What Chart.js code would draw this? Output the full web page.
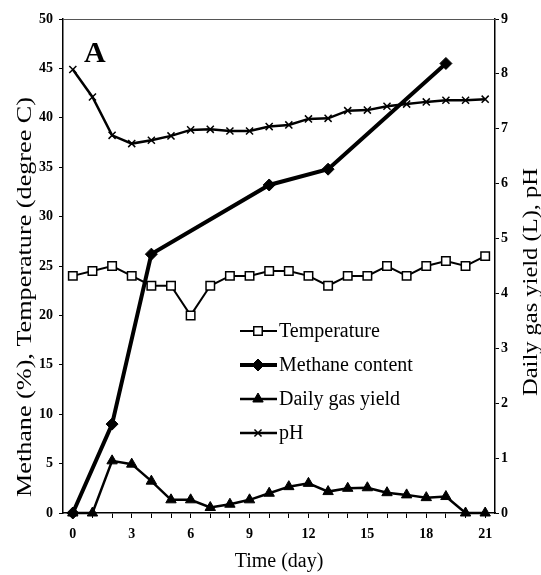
<!DOCTYPE html>
<html>
<head>
<meta charset="utf-8">
<script src="https://cdn.jsdelivr.net/npm/chart.js@4.4.1/dist/chart.umd.min.js"></script>
<style>
html,body{margin:0;padding:0;background:#fff;}
canvas{display:block;}
</style>
</head>
<body>
<canvas id="c" width="541" height="575"></canvas>
<script>
// ---- data ----
const days = [0,1,2,3,4,5,6,7,8,9,10,11,12,13,14,15,16,17,18,19,20,21];
const temperature = [24,24.5,25,24,23,23,20,23,24,24,24.5,24.5,24,23,24,24,25,24,25,25.5,25,26];
const methaneDays = [0,2,4,10,13,19];
const methane = [0,9,26.2,33.2,34.8,45.5];
const gasYield = [0,0,0.95,0.89,0.58,0.24,0.24,0.1,0.16,0.24,0.36,0.48,0.54,0.39,0.45,0.46,0.37,0.33,0.28,0.3,0,0];
const pH = [8.08,7.58,6.88,6.73,6.79,6.87,6.98,6.99,6.96,6.96,7.04,7.07,7.18,7.19,7.33,7.34,7.41,7.45,7.49,7.52,7.52,7.54];
const xTicks = [0,1,2,3,4,5,6,7,8,9,10,11,12,13,14,15,16,17,18,19,20,21];
const xTitle = 'Time (day)';
const yLeftTitle = 'Methane (%), Temperature (degree C)';
const yRightTitle = 'Daily gas yield (L), pH';
const panelLabel = 'A';

const SERIF = '"Liberation Serif","Times New Roman",serif';
const pts = (xs, ys) => xs.map((x,i)=>({x:x,y:ys[i]}));

const datasets = [
  {label:'Temperature', data:pts(days,temperature), yAxisID:'y', borderColor:'#000', borderWidth:2,
   pointStyle:'rect', pointRadius:6, pointBorderWidth:1.5, pointBackgroundColor:'#fff', pointBorderColor:'#000'},
  {label:'Methane content', data:pts(methaneDays,methane), yAxisID:'y', borderColor:'#000', borderWidth:4,
   pointStyle:'rectRot', pointRadius:6, pointBorderWidth:1, pointBackgroundColor:'#000', pointBorderColor:'#000'},
  {label:'Daily gas yield', data:pts(days,gasYield), yAxisID:'y2', borderColor:'#000', borderWidth:2.5,
   pointStyle:'triangle', pointRadius:6, pointBorderWidth:1, pointBackgroundColor:'#000', pointBorderColor:'#000'},
  {label:'pH', data:pts(days,pH), yAxisID:'y2', borderColor:'#000', borderWidth:2.5,
   pointStyle:'crossRot', pointRadius:5, pointBorderWidth:1.5, pointBackgroundColor:'#000', pointBorderColor:'#000'}
];
datasets.forEach(d=>{d.tension=0; d.clip=false; d.fill=false;});

function drawMarker(ctx, ds, x, y){
  ctx.save();
  ctx.fillStyle = ds.pointBackgroundColor;
  ctx.strokeStyle = ds.pointBorderColor;
  ctx.lineWidth = ds.pointBorderWidth;
  if (Chart.helpers && Chart.helpers.drawPoint) {
    Chart.helpers.drawPoint(ctx, {pointStyle:ds.pointStyle, radius:ds.pointRadius, rotation:0, borderWidth:ds.pointBorderWidth}, x, y);
  }
  ctx.restore();
}

// draw rotated (bottom-to-top) text of a given total length, centred at (cx, cy)
function vText(ctx, txt, cx, cy, size, targetLen){
  ctx.save();
  ctx.font = size + 'px ' + SERIF;
  const w = ctx.measureText(txt).width;
  const sx = targetLen ? targetLen / w : 1;
  ctx.translate(cx, cy);
  ctx.rotate(-Math.PI/2);
  ctx.scale(sx, 1);
  ctx.textAlign = 'center'; ctx.textBaseline = 'middle';
  ctx.fillText(txt, 0, 0);
  ctx.restore();
}

const decor = {
  id:'decor',
  afterDraw(chart){
    const ctx = chart.ctx, a = chart.chartArea;
    ctx.save();
    // top border
    ctx.strokeStyle = '#555'; ctx.lineWidth = 1;
    ctx.beginPath(); ctx.moveTo(a.left, a.top+0.5); ctx.lineTo(a.right, a.top+0.5); ctx.stroke();
    // panel label
    ctx.fillStyle = '#000';
    ctx.font = 'bold 30px ' + SERIF;
    ctx.textAlign = 'left'; ctx.textBaseline = 'alphabetic';
    ctx.fillText(panelLabel, 84, 62);
    // titles
    ctx.font = '20px ' + SERIF;
    ctx.textAlign = 'center'; ctx.textBaseline = 'middle';
    ctx.fillText(xTitle, 279, 562);
    vText(ctx, yLeftTitle, 25, 297, 22, 400);
    vText(ctx, yRightTitle, 531, 282, 21, 228);
    // legend
    const rows = [331, 365, 399, 433];
    chart.data.datasets.forEach((ds,i)=>{
      const y = rows[i];
      ctx.strokeStyle = '#000'; ctx.lineWidth = ds.borderWidth;
      ctx.beginPath(); ctx.moveTo(240, y); ctx.lineTo(277, y); ctx.stroke();
      drawMarker(ctx, ds, 258, y);
      ctx.fillStyle = '#000';
      ctx.font = '20px ' + SERIF;
      ctx.textAlign = 'left'; ctx.textBaseline = 'middle';
      ctx.fillText(ds.label, 279, y+1);
    });
    ctx.restore();
  }
};

const tickFont = {family:SERIF, size:14, weight:'bold'};

new Chart(document.getElementById('c'), {
  type:'line',
  data:{datasets:datasets},
  options:{
    responsive:false, animation:false, devicePixelRatio:1,
    layout:{padding:{top:19, left:0, right:0, bottom:0}},
    plugins:{legend:{display:false}, tooltip:{enabled:false}},
    scales:{
      x:{type:'linear', min:-0.5, max:21.5,
        afterBuildTicks(s){ s.ticks = xTicks.map(v=>({value:v})); },
        afterFit(s){ s.height = 62; },
        ticks:{font:tickFont, color:'#000', padding:8, maxRotation:0, autoSkip:false,
          callback:(v)=> (v%3===0 ? String(v) : '')},
        grid:{drawOnChartArea:false, drawTicks:true, tickLength:5, color:'#000', lineWidth:1},
        border:{display:true, color:'#000', width:1.5}
      },
      y:{type:'linear', position:'left', min:0, max:50,
        ticks:{stepSize:5, font:tickFont, color:'#000', padding:6},
        afterFit(s){ s.width = 63; },
        grid:{drawOnChartArea:false, drawTicks:true, tickLength:4, color:'#000', lineWidth:1},
        border:{display:true, color:'#000', width:1.5}
      },
      y2:{type:'linear', position:'right', min:0, max:9,
        ticks:{stepSize:1, font:tickFont, color:'#000', padding:2},
        afterFit(s){ s.width = 46; },
        grid:{drawOnChartArea:false, drawTicks:true, tickLength:4, color:'#000', lineWidth:1},
        border:{display:true, color:'#000', width:1.5}
      }
    }
  },
  plugins:[decor]
});
</script>
</body>
</html>
